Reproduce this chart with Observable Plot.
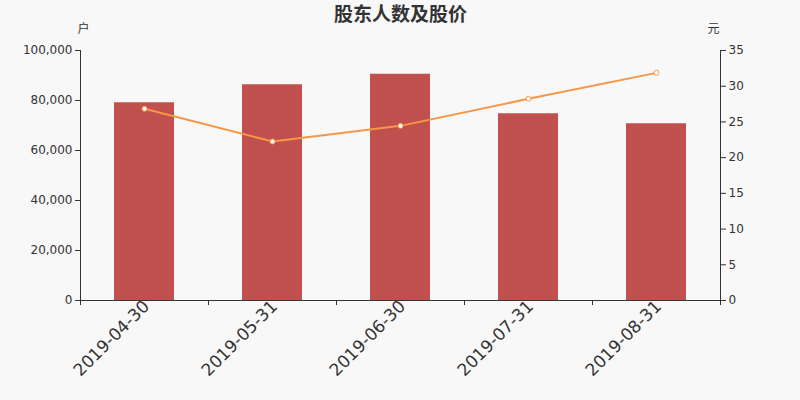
<!DOCTYPE html>
<html>
<head>
<meta charset="utf-8">
<script src="https://cdn.jsdelivr.net/npm/d3@7"></script>
<script src="https://cdn.jsdelivr.net/npm/@observablehq/plot@0.6"></script>
<style>
  html, body { margin: 0; padding: 0; background: #f8f8f8; }
</style>
</head>
<body>
<div id="chart"></div>
<script>
const dates = ["2019-04-30", "2019-05-31", "2019-06-30", "2019-07-31", "2019-08-31"];
const holders = [79100, 86300, 90500, 74700, 70700];
const prices = [26.84, 22.26, 24.45, 28.24, 31.87];
const holderTicks = [0, 20000, 40000, 60000, 80000, 100000];
const priceTicks = [0, 5, 10, 15, 20, 25, 30, 35];
const title = "股东人数及股价";
const leftUnit = "户";
const rightUnit = "元";

const k = 100000 / 35;
const data = dates.map((d, i) => ({date: d, holders: holders[i], price: prices[i]}));
const step = 128;

const chart = Plot.plot({
  width: 800,
  height: 400,
  marginLeft: 80,
  marginRight: 80,
  marginTop: 50,
  marginBottom: 100,
  style: {background: "#f8f8f8", fontFamily: "'DejaVu Sans', 'Noto Sans CJK SC', sans-serif", fontSize: "12px", color: "#333"},
  x: {domain: dates, paddingInner: 0.53, paddingOuter: 0.265, label: null},
  y: {domain: [0, 100000], label: null},
  marks: [
    Plot.barY(data, {x: "date", y: "holders", fill: "#c0504d"}),
    Plot.line(data, {x: "date", y: d => d.price * k, stroke: "#f79646", strokeWidth: 2}),
    Plot.dot(data, {x: "date", y: d => d.price * k, r: 2.5, fill: "white", stroke: "#f79646", strokeWidth: 1}),
    Plot.ruleY([0], {stroke: "#333"}),
    Plot.ruleX([dates[0]], {dx: -step / 2, stroke: "#333"}),
    Plot.ruleX([dates[dates.length - 1]], {dx: step / 2, stroke: "#333"}),
    Plot.axisY(holderTicks, {anchor: "left", tickSize: 5, tickPadding: 3, tickFormat: d3.format(","), label: null}),
    Plot.axisY(priceTicks.map(v => v * k), {anchor: "right", tickSize: 5, tickPadding: 3, tickFormat: d => Math.round(d / k), label: null}),
    Plot.axisX({anchor: "bottom", tickSize: 0, tickRotate: -45, fontSize: 17, tickPadding: 3, dx: 2, label: null}),
    Plot.axisX(dates, {anchor: "bottom", tickSize: 5, fill: "none", dx: -step / 2, label: null}),
    Plot.axisX([dates[dates.length - 1]], {anchor: "bottom", tickSize: 5, fill: "none", dx: step / 2, label: null}),
    Plot.text([title], {frameAnchor: "top", dy: -43, fontSize: 19, fontWeight: "bold", fill: "#333"}),
    Plot.text([leftUnit], {frameAnchor: "top-left", dy: -26, dx: -3, fontSize: 12, fill: "#333"}),
    Plot.text([rightUnit], {frameAnchor: "top-right", dy: -26, dx: -1, fontSize: 12, fill: "#333"})
  ]
});
document.getElementById("chart").appendChild(chart);
</script>
</body>
</html>
